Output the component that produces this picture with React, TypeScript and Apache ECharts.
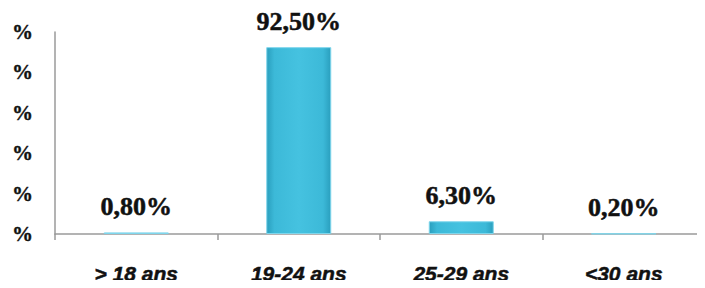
import React, { useEffect, useRef } from "react";
import * as echarts from "echarts";

const categories = ["> 18 ans", "19-24 ans", "25-29 ans", "<30 ans"];
const values = [0.8, 92.5, 6.3, 0.2];
const valueLabels = ["0,80%", "92,50%", "6,30%", "0,20%"];

const SERIF = "Liberation Serif, Times New Roman, serif";
const SANS = "Liberation Sans, Arial, sans-serif";

export default function App() {
  const ref = useRef<HTMLDivElement>(null);
  useEffect(() => {
    const chart = echarts.init(ref.current!, null, { renderer: "svg" });
    chart.setOption({
      animation: false,
      backgroundColor: "#ffffff",
      grid: { left: 55, right: 0, top: 32, bottom: 54, containLabel: false },
      xAxis: {
        type: "category",
        data: categories,
        axisLine: { show: true, lineStyle: { color: "#9a9a9a", width: 1.5 } },
        axisTick: { show: true, length: 6, lineStyle: { color: "#9a9a9a", width: 1.5 } },
        axisLabel: {
          margin: 29,
          color: "#111",
          fontFamily: SANS,
          fontStyle: "italic",
          fontWeight: "bold",
          fontSize: 21,
          textBorderColor: "#111",
          textBorderWidth: 0.5,
        },
      },
      yAxis: {
        type: "value",
        min: 0,
        max: 100,
        interval: 20,
        splitLine: { show: false },
        axisLine: { show: true, lineStyle: { color: "#9a9a9a", width: 1.5 } },
        axisTick: { show: false },
        axisLabel: {
          formatter: () => "%",
          color: "#111",
          fontFamily: SERIF,
          fontWeight: "bold",
          fontSize: 21,
          margin: 43,
          align: "left",
          textBorderColor: "#111",
          textBorderWidth: 0.4,
        },
      },
      series: [
        {
          type: "bar",
          data: values,
          barWidth: "40%",
          itemStyle: {
            color: new echarts.graphic.LinearGradient(0, 0, 1, 0, [
              { offset: 0, color: "#2a9fbe" },
              { offset: 0.12, color: "#3cb9d8" },
              { offset: 0.5, color: "#45c2e0" },
              { offset: 0.88, color: "#3cb9d8" },
              { offset: 1, color: "#2a9fbe" },
            ]),
            borderColor: "#7fd6ec",
            borderWidth: 1,
          },
          label: {
            show: true,
            position: "top",
            distance: 13,
            formatter: (p: any) => valueLabels[p.dataIndex],
            color: "#111",
            fontFamily: SERIF,
            fontWeight: "bold",
            fontSize: 26,
            textBorderColor: "#111",
            textBorderWidth: 0.5,
          },
        },
      ],
    });
    return () => chart.dispose();
  }, []);
  return <div ref={ref} style={{ width: 705, height: 288, margin: -8 }} />;
}
